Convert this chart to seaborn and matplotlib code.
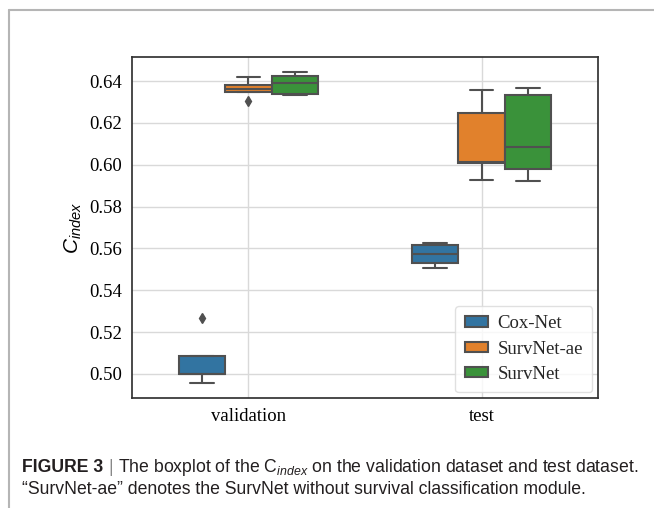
import numpy as np
import pandas as pd
import seaborn as sns
import matplotlib.pyplot as plt
from matplotlib.lines import Line2D

# C-index per fold
splits = ["validation", "test"]
models = ["Cox-Net", "SurvNet-ae", "SurvNet"]
colors = ["#1f77b4", "#ff7f0e", "#2ca02c"]

coxnet_val = [0.4955, 0.4998, 0.5000, 0.5087, 0.5268]
survnet_ae_val = [0.6303, 0.6350, 0.6363, 0.6379, 0.6421]
survnet_val = [0.6331, 0.6337, 0.6393, 0.6423, 0.6443]

coxnet_test = [0.5508, 0.5531, 0.5574, 0.5617, 0.5625]
survnet_ae_test = [0.5927, 0.6008, 0.6013, 0.6248, 0.6355]
survnet_test = [0.5920, 0.5978, 0.6087, 0.6331, 0.6369]

values = {
    ("validation", "Cox-Net"): coxnet_val,
    ("validation", "SurvNet-ae"): survnet_ae_val,
    ("validation", "SurvNet"): survnet_val,
    ("test", "Cox-Net"): coxnet_test,
    ("test", "SurvNet-ae"): survnet_ae_test,
    ("test", "SurvNet"): survnet_test,
}

rows = []
for (split, model), vals in values.items():
    for v in vals:
        rows.append({"split": split, "model": model, "cindex": v})
df = pd.DataFrame(rows)

sns.set_theme(style="whitegrid")
plt.rcParams.update({
    "axes.edgecolor": ".2",
    "axes.linewidth": 1.25,
    "grid.color": ".85",
    "xtick.major.size": 3.5,
    "ytick.major.size": 3.5,
    "xtick.major.width": 1,
    "ytick.major.width": 1,
    "xtick.color": ".2",
    "ytick.color": ".2",
    "mathtext.fontset": "custom",
    "mathtext.rm": "Liberation Sans",
    "mathtext.it": "Liberation Sans:italic",
})

fig = plt.figure(figsize=(6.54, 5.08), dpi=100)
ax = fig.add_axes([0.2018, 0.2165, 0.7126, 0.6713])

line_gray = "#505050"
sns.boxplot(data=df, x="split", y="cindex", hue="model", order=splits,
            hue_order=models, palette=colors, width=0.6, gap=0, linewidth=1.5,
            linecolor=line_gray,
            flierprops={"marker": "d", "markerfacecolor": line_gray,
                        "markeredgecolor": line_gray},
            fliersize=5, ax=ax)

ax.set_ylim(0.4885, 0.6515)
ax.set_yticks([0.50, 0.52, 0.54, 0.56, 0.58, 0.60, 0.62, 0.64])
ax.set_yticklabels([f"{t:.2f}" for t in ax.get_yticks()])
ax.set_xlabel("")
ax.set_ylabel("$C_{index}$", fontsize=15, color="black")
ax.xaxis.grid(True)
for lab in ax.get_xticklabels() + ax.get_yticklabels():
    lab.set_fontfamily("Liberation Serif")
    lab.set_fontsize(13.5)
    lab.set_color("black")

leg = ax.legend(loc="lower right", prop={"family": "Liberation Serif", "size": 13.5},
                frameon=True, handlelength=1.25, handleheight=0.45,
                handletextpad=0.5, labelspacing=0.45, borderpad=0.5,
                borderaxespad=0.3)
leg.get_frame().set_edgecolor(".85")

# page frame lines
fig.add_artist(Line2D([9 / 654, 1], [1 - 10 / 508, 1 - 10 / 508], color="#b5b5b5", lw=1.5))
fig.add_artist(Line2D([9 / 654, 9 / 654], [0, 1 - 10 / 508], color="#b5b5b5", lw=1.5))

# caption
cap_font = ["Liberation Sans"]
cap_size = 12.7
fig.canvas.draw()
r = fig.canvas.get_renderer()
t1 = fig.text(22 / 654, 1 - 468 / 508, "FIGURE 3", fontsize=cap_size, fontweight="bold",
              family=cap_font, color="#231f20", va="center")
bb = t1.get_window_extent(r)
t2 = fig.text((bb.x1 + 5) / 654, 1 - 468 / 508, "|", fontsize=cap_size, family=cap_font,
              color="#888888", va="center")
bb2 = t2.get_window_extent(r)
fig.text((bb2.x1 + 5) / 654, 1 - 468 / 508,
         r"The boxplot of the $\mathrm{C}_{index}$ on the validation dataset and test dataset.",
         fontsize=cap_size, family=cap_font, color="#231f20", va="center")
fig.text(22 / 654, 1 - 490 / 508,
         "\u201cSurvNet-ae\u201d denotes the SurvNet without survival classification module.",
         fontsize=cap_size, family=cap_font, color="#231f20", va="center")

fig.savefig("out.png", dpi=100)
